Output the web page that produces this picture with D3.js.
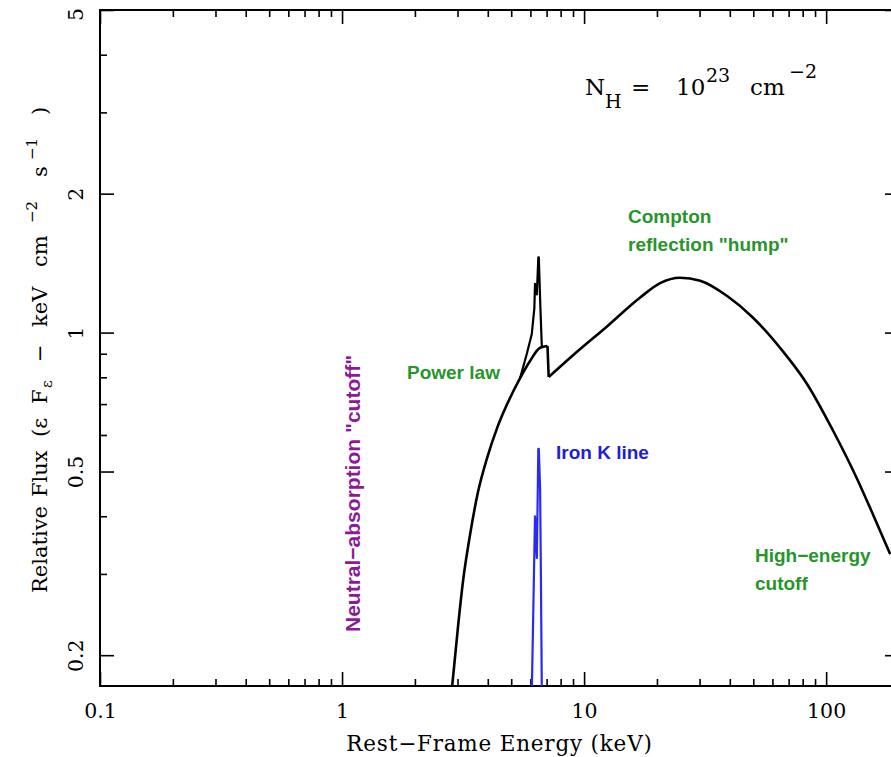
<!DOCTYPE html>
<html>
<head>
<meta charset="utf-8">
<script src="https://cdn.jsdelivr.net/npm/d3@7"></script>
<style>
  body { margin: 0; background: #fff; }
  .axis text { font-family: "DejaVu Serif", serif; font-size: 20.5px; fill: #000; }
  .axis line { stroke: #000; stroke-width: 1.6px; }
  .note { font-family: "Liberation Sans", Arial, sans-serif; font-weight: bold; font-size: 19px; }
</style>
</head>
<body>
<div class="chart"></div>
<script>
// spectrum (energy in keV, relative flux)
var continuumE = [2.84, 3.02, 3.16, 3.38, 3.65, 3.97, 4.37, 4.81, 5.44, 5.98, 6.58, 7.06, 7.14,
                  9.0, 12.4, 17.0, 20.6, 24.9, 30.2, 39.0, 49.9, 64.5, 83.5, 107, 134, 156, 184];
var continuumF = [0.168, 0.233, 0.289, 0.365, 0.453, 0.534, 0.621, 0.700, 0.797, 0.868, 0.927, 0.935, 0.801,
                  0.893, 1.03, 1.19, 1.28, 1.315, 1.295, 1.20, 1.077, 0.927, 0.773, 0.612, 0.483, 0.404, 0.331];

// continuum + iron line (black spike)
var totalE = [5.44, 5.80, 6.08, 6.23, 6.27, 6.38, 6.47, 6.50, 6.60, 6.69];
var totalF = [0.797, 0.900, 0.993, 1.13, 1.276, 1.21, 1.456, 1.456, 1.13, 0.93];

// iron K line alone (blue)
var ironE = [6.06, 6.27, 6.38, 6.47, 6.50, 6.58, 6.62, 6.70];
var ironF = [0.15, 0.40, 0.325, 0.56, 0.56, 0.46, 0.33, 0.15];

var xMajor = [0.1, 1, 10, 100];
var xMinor = [0.2, 0.3, 0.4, 0.5, 0.6, 0.7, 0.8, 0.9, 2, 3, 4, 5, 6, 7, 8, 9, 20, 30, 40, 50, 60, 70, 80, 90];
var yMajor = [0.2, 0.5, 1, 2, 5];
var yMinor = [0.3, 0.4, 0.6, 0.7, 0.8, 0.9, 3, 4];

var W = 891, H = 757;
var pLeft = 100, pRight = 899, pTop = 10, pBottom = 686;

var svg = d3.select(".chart").append("svg")
    .attr("width", W)
    .attr("height", H);

var x = d3.scaleLog().domain([0.1, 200]).range([pLeft, pRight]);
var y = d3.scaleLog().domain([0.1715, 5]).range([pBottom, pTop]);
var fmt = d3.format("~g");

svg.append("clipPath").attr("id", "plot")
  .append("rect")
    .attr("x", pLeft).attr("y", pTop)
    .attr("width", pRight - pLeft).attr("height", pBottom - pTop);

// ticks on all sides, pointing in
function ticks(axis, tx, ty) {
    var g = svg.append("g")
        .attr("class", "axis")
        .attr("transform", "translate(" + tx + "," + ty + ")")
        .call(axis);
    g.select(".domain").remove();
    return g;
}

ticks(d3.axisBottom(x).tickValues(xMinor).tickSize(-7).tickFormat(""), 0, pBottom);
ticks(d3.axisBottom(x).tickValues(xMajor).tickSize(-14).tickPadding(17).tickFormat(fmt), 0, pBottom);
ticks(d3.axisTop(x).tickValues(xMinor).tickSize(-7).tickFormat(""), 0, pTop);
ticks(d3.axisTop(x).tickValues(xMajor).tickSize(-14).tickFormat(""), 0, pTop);

ticks(d3.axisLeft(y).tickValues(yMinor).tickSize(-7).tickFormat(""), pLeft, 0);
var yl = ticks(d3.axisLeft(y).tickValues(yMajor).tickSize(-14).tickFormat(fmt), pLeft, 0);
yl.selectAll("text")
    .attr("transform", "rotate(-90)")
    .attr("x", function(d) { return d === 5 ? -4 : 0; })
    .attr("y", -17)
    .attr("dy", 0)
    .attr("text-anchor", "middle");
ticks(d3.axisRight(y).tickValues(yMinor).tickSize(-7).tickFormat(""), pRight, 0);
ticks(d3.axisRight(y).tickValues(yMajor).tickSize(-14).tickFormat(""), pRight, 0);

svg.append("rect")
    .attr("x", pLeft).attr("y", pTop)
    .attr("width", pRight - pLeft).attr("height", pBottom - pTop)
    .attr("fill", "none")
    .attr("stroke", "#000")
    .attr("stroke-width", 2);

// curves
var smooth = d3.line()
    .x(function(d) { return x(d[0]); })
    .y(function(d) { return y(d[1]); })
    .curve(d3.curveMonotoneX);
var straight = d3.line()
    .x(function(d) { return x(d[0]); })
    .y(function(d) { return y(d[1]); });

var curves = svg.append("g")
    .attr("clip-path", "url(#plot)")
    .attr("fill", "none")
    .attr("stroke-linejoin", "round");

// continuum: smooth on both sides of the iron K edge, straight across it
var cont = d3.zip(continuumE, continuumF);
var k = continuumE.findIndex(function(e) { return e > 7.1; });
[smooth(cont.slice(0, k)), straight(cont.slice(k - 1, k + 1)), smooth(cont.slice(k))].forEach(function(d) {
    curves.append("path")
        .attr("d", d)
        .attr("stroke", "#000")
        .attr("stroke-width", 2.6);
});

curves.append("path")
    .attr("d", straight(d3.zip(totalE, totalF)))
    .attr("stroke", "#000")
    .attr("stroke-width", 2.2);

curves.append("path")
    .attr("d", straight(d3.zip(ironE, ironF)))
    .attr("stroke", "#2b2bf0")
    .attr("stroke-width", 2.2);

// axis titles
svg.append("text")
    .attr("x", (pLeft + pRight) / 2)
    .attr("y", 751)
    .attr("text-anchor", "middle")
    .style("font-family", "DejaVu Serif, serif")
    .style("font-size", "21.5px")
    .style("letter-spacing", "0.8px")
    .text("Rest\u2212Frame Energy (keV)");

// y title, pieces spaced out along the axis like the original
var yt = svg.append("text")
    .attr("transform", "translate(47,593) rotate(-90)")
    .style("font-family", "DejaVu Serif, serif")
    .style("font-size", "21px");
[
    {t: "Relative", at: 0},
    {t: "Flux", at: 96},
    {t: "(\u03b5", at: 156},
    {t: "F", at: 189},
    {t: "\u03b5", at: 205, sub: true},
    {t: "\u2212", at: 231},
    {t: "keV", at: 266},
    {t: "cm", at: 326},
    {t: "\u22122", at: 370, sup: true},
    {t: "s", at: 416},
    {t: "\u22121", at: 433, sup: true},
    {t: ")", at: 478}
].forEach(function(p) {
    yt.append("tspan")
        .attr("x", p.at)
        .attr("y", p.sub ? 5 : p.sup ? -10 : 0)
        .style("font-size", p.sub || p.sup ? "15px" : null)
        .text(p.t);
});

// column density
var nh = svg.append("text")
    .style("font-family", "DejaVu Serif, serif")
    .style("font-size", "23px");
[
    {t: "N", at: 585, dy: 0},
    {t: "H", at: 605, dy: 13, small: true},
    {t: "=", at: 631, dy: 0},
    {t: "10", at: 676, dy: 0},
    {t: "23", at: 706, dy: -13, small: true},
    {t: "cm", at: 750, dy: 0},
    {t: "\u22122", at: 789, dy: -17, small: true}
].forEach(function(p) {
    nh.append("tspan")
        .attr("x", p.at)
        .attr("y", 95 + p.dy)
        .style("font-size", p.small ? "19px" : null)
        .text(p.t);
});

// annotations
var green = "#27952a";
function note(txt, px, py, color) {
    svg.append("text")
        .attr("class", "note")
        .attr("x", px)
        .attr("y", py)
        .attr("fill", color)
        .text(txt);
}
note("Compton", 628, 223, green);
note("reflection \"hump\"", 628, 251, green);
note("Power law", 407, 379, green);
note("Iron K line", 556, 459, "#1f1fd2");
note("High\u2212energy", 755, 562, green);
note("cutoff", 755, 590, green);

svg.append("text")
    .attr("class", "note")
    .attr("transform", "translate(360,632) rotate(-90)")
    .attr("fill", "#8c1a96")
    .style("font-size", "21px")
    .text("Neutral\u2212absorption \"cutoff\"");
</script>
</body>
</html>
